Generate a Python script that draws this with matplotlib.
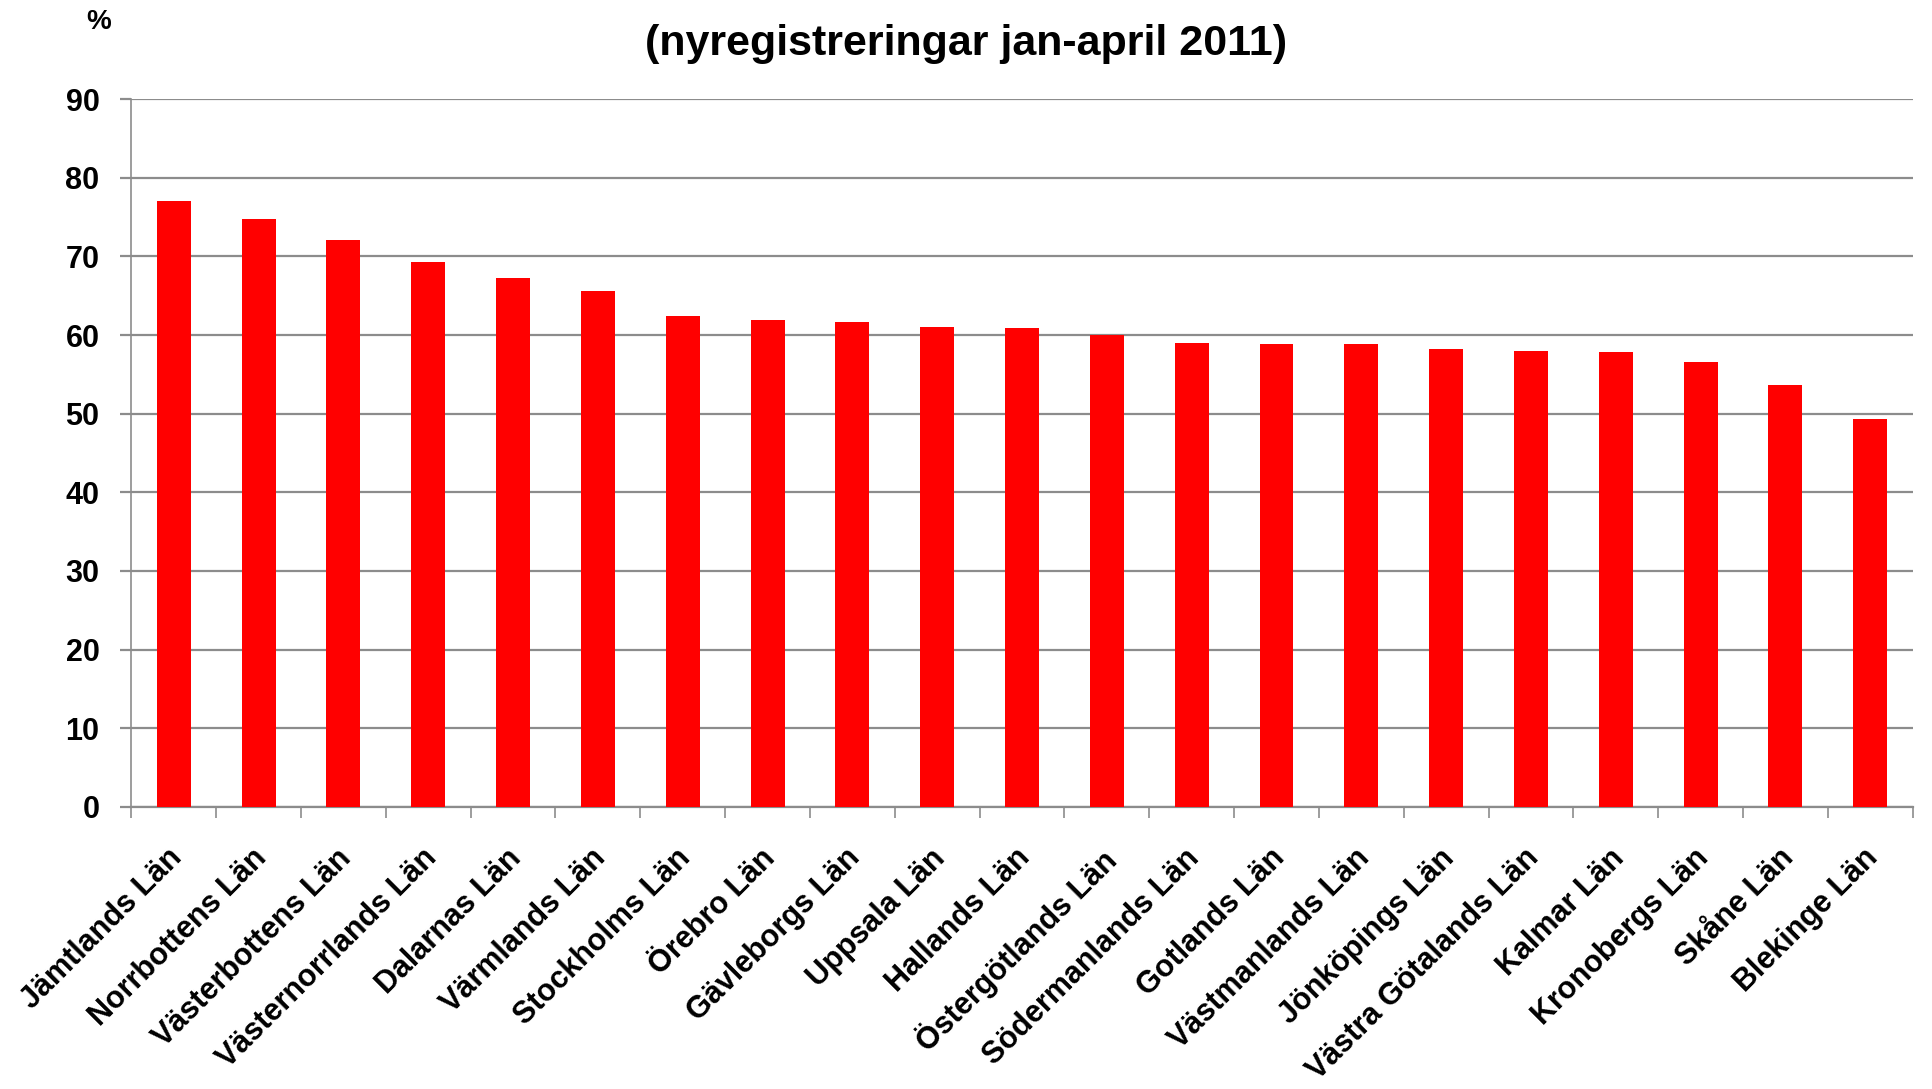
import matplotlib
matplotlib.use("Agg")
import matplotlib.pyplot as plt
import matplotlib.transforms as mtransforms
import numpy as np

plt.rcParams['font.family'] = ['Liberation Sans', 'DejaVu Sans']
plt.rcParams['font.weight'] = 'bold'

# andel per län (%)
lan = ['Jämtlands Län', 'Norrbottens Län', 'Västerbottens Län',
       'Västernorrlands Län', 'Dalarnas Län', 'Värmlands Län',
       'Stockholms Län', 'Örebro Län', 'Gävleborgs Län', 'Uppsala Län',
       'Hallands Län', 'Östergötlands Län', 'Södermanlands Län',
       'Gotlands Län', 'Västmanlands Län', 'Jönköpings Län',
       'Västra Götalands Län', 'Kalmar Län', 'Kronobergs Län',
       'Skåne Län', 'Blekinge Län']
andel = [77.1, 74.7, 72.1, 69.3, 67.2, 65.6, 62.4, 61.9, 61.6, 61.0,
         60.9, 60.0, 59.0, 58.9, 58.9, 58.2, 58.0, 57.9, 56.6, 53.6, 49.3]
yticks = [0, 10, 20, 30, 40, 50, 60, 70, 80, 90]

fig = plt.figure(figsize=(19.32, 10.89), dpi=100)
ax = fig.add_axes([0.068, 0.259, 0.922, 0.650])

x = np.arange(len(lan))
ax.bar(x, andel, width=0.4, color='#ff0000', zorder=3)

ax.set_xlim(-0.5, len(lan) - 0.5)
ax.set_ylim(0, 90)
ax.set_yticks(yticks)
ax.yaxis.grid(True, color='#8c8c8c', linewidth=1.6, zorder=0)
ax.set_axisbelow(True)

# kategorietiketter, ticks mellan staplarna
ax.set_xticks(x)
ax.set_xticklabels(lan, rotation=45, ha='right', rotation_mode='anchor',
                   fontsize=22, fontweight='bold')
ax.tick_params(axis='x', length=0, pad=26)
shift = mtransforms.ScaledTranslation(-0.07, 0, fig.dpi_scale_trans)
for t in ax.get_xticklabels():
    t.set_transform(t.get_transform() + shift)
ax.set_xticks(np.arange(-0.5, len(lan)), minor=True)
ax.tick_params(axis='x', which='minor', length=8, width=1.2, color='#8c8c8c')
ax.tick_params(axis='y', length=8, width=1.6, color='#8c8c8c', labelsize=22, pad=15)
for t in ax.get_yticklabels():
    t.set_fontweight('bold')

for s in ['top', 'right']:
    ax.spines[s].set_visible(False)
ax.spines['left'].set_color('#8c8c8c')
ax.spines['bottom'].set_color('#8c8c8c')
ax.spines['left'].set_linewidth(1.2)
ax.spines['bottom'].set_linewidth(1.6)

fig.text(0.051, 0.98, '%', fontsize=20, fontweight='bold', ha='center', va='center')
fig.text(0.5, 0.96, '(nyregistreringar jan-april 2011)', fontsize=31,
         fontweight='bold', ha='center', va='center')

fig.savefig('out.png', dpi=100)
